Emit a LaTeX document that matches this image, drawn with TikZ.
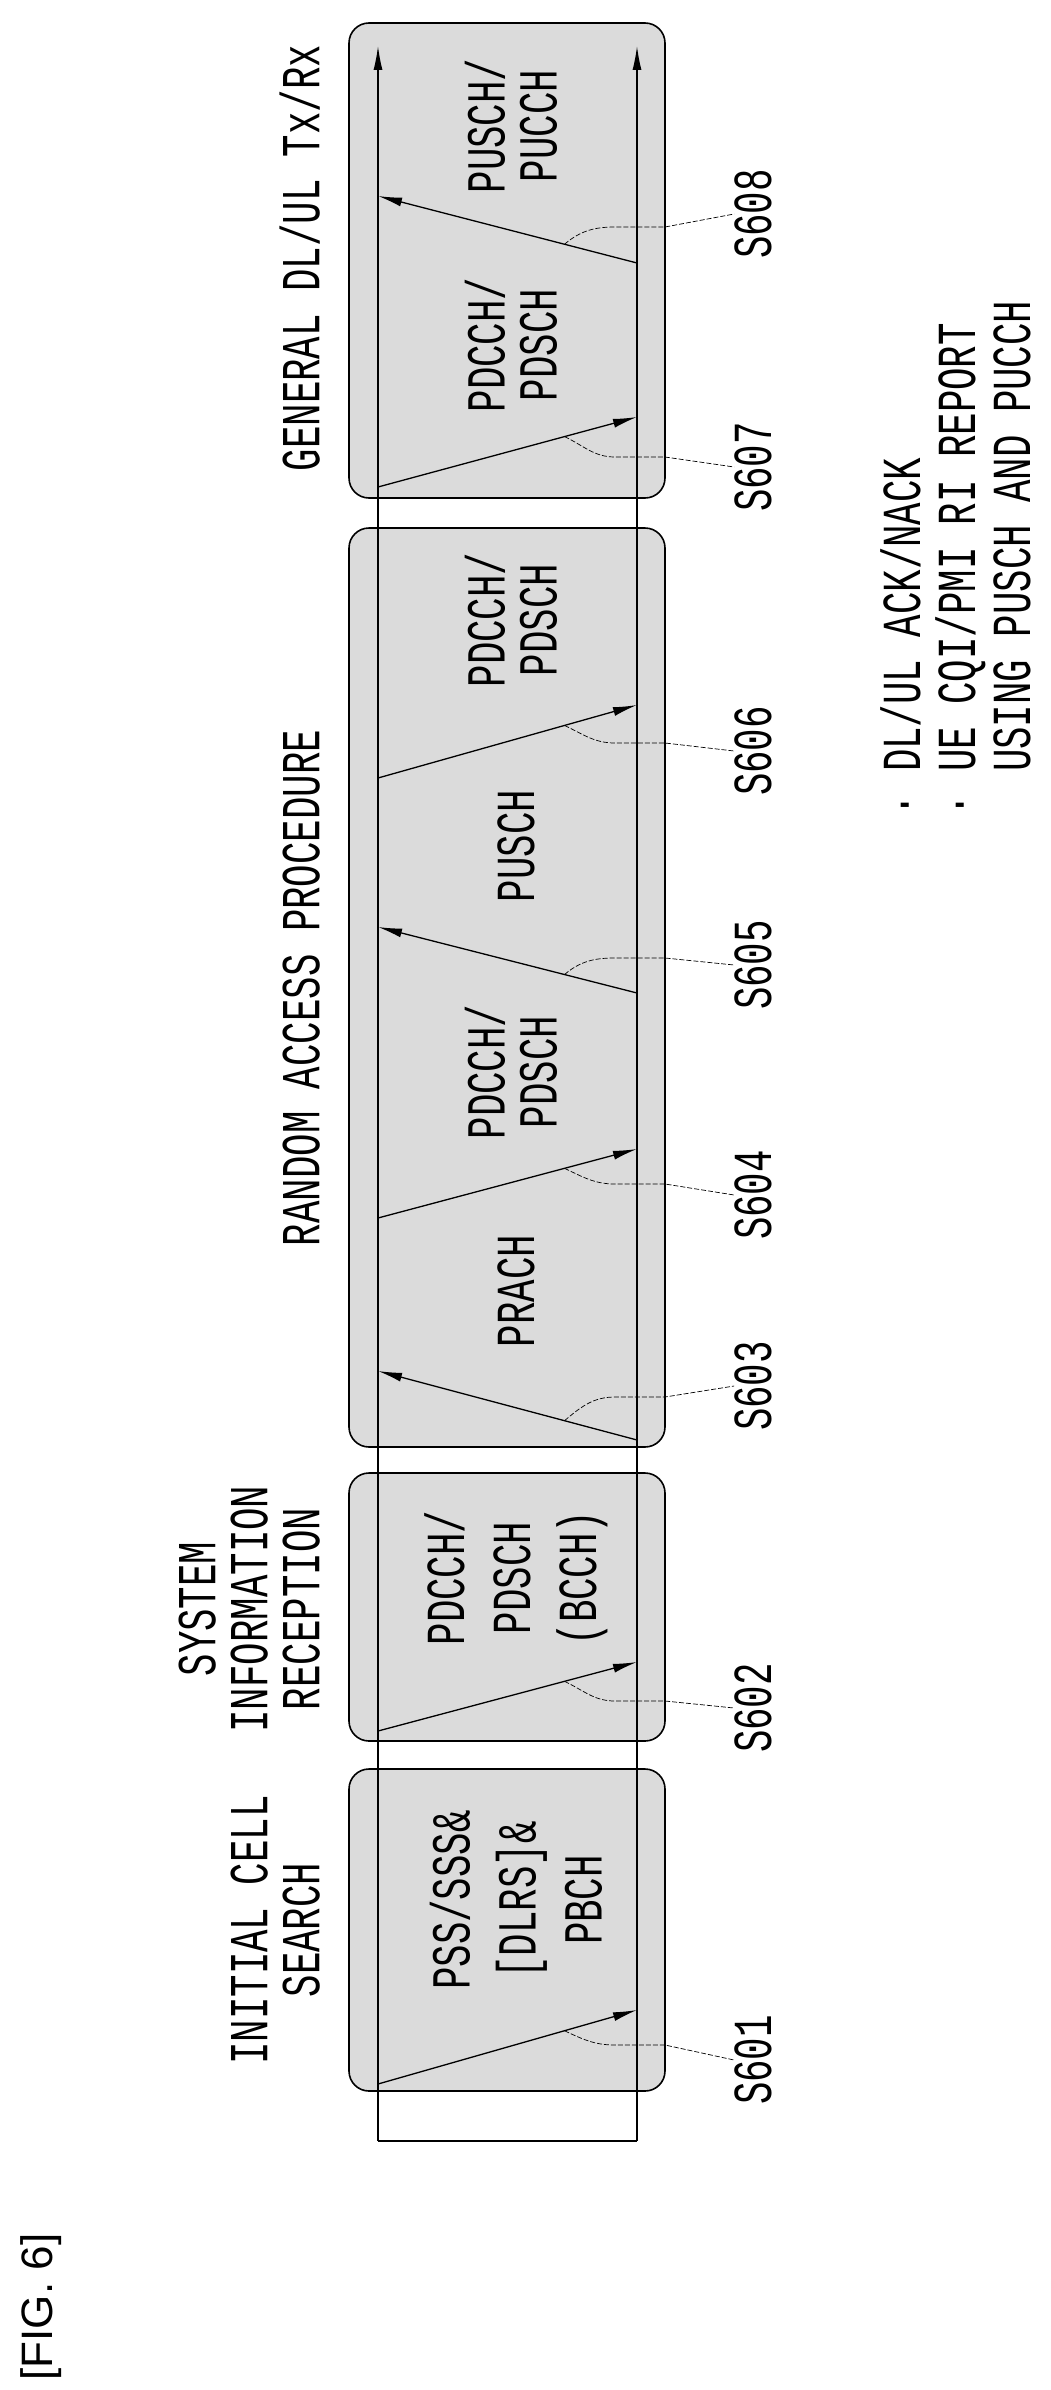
\documentclass[tikz,border=0pt]{standalone}
\usepackage{fontspec}
\setmainfont{Liberation Sans}
\newfontfamily\chfont[FakeStretch=0.68]{Liberation Mono}
\usetikzlibrary{arrows.meta}

\tikzset{
	stage/.style={draw,line width=1.6pt,fill=gray!28,rounded corners=20pt},
	sig/.style={line width=1.3pt,-{Latex[length=24pt,width=9pt]}},
	lead/.style={line width=0.7pt,dash pattern=on 5pt off 2pt},
	txt/.style={rotate=90,font=\chfont\fontsize{55}{52}\selectfont,align=center,inner sep=0pt},
	head/.style={txt,anchor=south},
	lab/.style={rotate=90,font=\chfont\fontsize{55}{55}\selectfont,inner sep=0pt}
}

\begin{document}
\begin{tikzpicture}[x=1pt,y=-1pt]
	\path[use as bounding box] (0,0) rectangle (1050,2390);
	
	% stage boxes
	\draw[stage] (349,23) rectangle (665,498);
	\draw[stage] (349,528) rectangle (665,1447);
	\draw[stage] (349,1473) rectangle (665,1741);
	\draw[stage] (349,1769) rectangle (665,2091);
	
	% UE / eNB time lines
	\coordinate (ueb) at (378,2141);
	\coordinate (uet) at (378,46);
	\coordinate (enb) at (637,2141);
	\coordinate (ent) at (637,46);
	\draw[sig] (ueb) -- (uet);
	\draw[sig] (enb) -- (ent);
	\draw[line width=1.3pt] (ueb) -- (enb);
	
	% signals
	\draw[sig] (378,2084) -- coordinate[pos=0.72] (m1) (637,2010);
	\draw[sig] (378,1731) -- coordinate[pos=0.72] (m2) (637,1662);
	\draw[sig] (637,1440) -- coordinate[pos=0.28] (m3) (378,1371);
	\draw[sig] (378,1218) -- coordinate[pos=0.72] (m4) (637,1149);
	\draw[sig] (637,993) -- coordinate[pos=0.28] (m5) (378,927);
	\draw[sig] (378,778) -- coordinate[pos=0.72] (m6) (637,705);
	\draw[sig] (378,487) -- coordinate[pos=0.72] (m7) (637,417);
	\draw[sig] (637,263) -- coordinate[pos=0.28] (m8) (378,196);
	
	% step labels
	\node[lab] (s1) at (753,2060) {S601};
	\node[lab] (s2) at (753,1708) {S602};
	\node[lab] (s3) at (753,1386) {S603};
	\node[lab] (s4) at (753,1195) {S604};
	\node[lab] (s5) at (753,965) {S605};
	\node[lab] (s6) at (753,751) {S606};
	\node[lab] (s7) at (753,467) {S607};
	\node[lab] (s8) at (753,214) {S608};
	
	\draw[lead] (m1) to[out=-25,in=180] (615,2045) -- (665,2045) -- (s1.north);
	\draw[lead] (m2) to[out=-25,in=180] (615,1701) -- (665,1701) -- (s2.north);
	\draw[lead] (m3) to[out=40,in=180] (615,1397) -- (665,1397) -- (s3.north);
	\draw[lead] (m4) to[out=-25,in=180] (615,1184) -- (665,1184) -- (s4.north);
	\draw[lead] (m5) to[out=40,in=180] (615,958) -- (665,958) -- (s5.north);
	\draw[lead] (m6) to[out=-25,in=180] (615,743) -- (665,743) -- (s6.north);
	\draw[lead] (m7) to[out=-25,in=180] (615,457) -- (665,457) -- (s7.north);
	\draw[lead] (m8) to[out=40,in=180] (615,227) -- (665,227) -- (s8.north);
	
	% channels
	\node[txt,font=\chfont\fontsize{55}{66}\selectfont] (c1) at (516,1900) {PSS/SSS\&\\{[}DLRS{]}\&\\PBCH};
	\node[txt,font=\chfont\fontsize{55}{66}\selectfont] (c2) at (516,1578) {PDCCH/\\PDSCH\\(BCCH)};
	\node[txt] (c3) at (516,1291) {PRACH};
	\node[txt] (c4) at (511,1072) {PDCCH/\\PDSCH};
	\node[txt] (c5) at (516,846) {PUSCH};
	\node[txt] (c6) at (511,620) {PDCCH/\\PDSCH};
	\node[txt] (c7) at (511,345) {PDCCH/\\PDSCH};
	\node[txt] (c8) at (511,126) {PUSCH/\\PUCCH};
	
	% stage titles
	\node[head] (t1) at (320,1930) {INITIAL CELL\\SEARCH};
	\node[head] (t2) at (320,1609) {SYSTEM\\INFORMATION\\RECEPTION};
	\node[head] (t3) at (320,988) {RANDOM ACCESS PROCEDURE};
	\node[head] (t4) at (320,258) {GENERAL DL/UL Tx/Rx};
	
	\node[lab,align=left,anchor=north west,font=\chfont\fontsize{55}{55}\selectfont] (note) at (880,817)
		{· DL/UL ACK/NACK\\· UE CQI/PMI RI REPORT\\\phantom{· }USING PUSCH AND PUCCH};
	
	\node[rotate=90,font=\fontsize{44}{44}\selectfont,inner sep=0pt] (fig) at (41,2307) {[FIG. 6]};
	
\end{tikzpicture}
\end{document}
